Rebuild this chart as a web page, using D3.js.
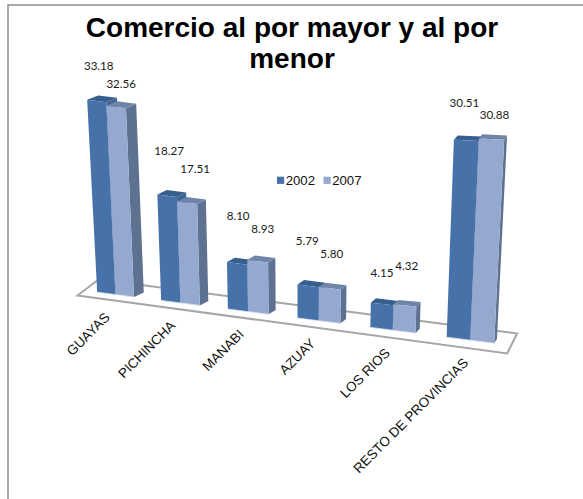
<!DOCTYPE html>
<html><head><meta charset="utf-8">
<script src="https://cdn.jsdelivr.net/npm/d3@7"></script>
<style>html,body{margin:0;background:#fff}svg{display:block}text{font-family:"Liberation Sans",Arial,sans-serif}</style>
</head><body><svg id="c" width="583" height="499"></svg>
<script>
const categories = ["GUAYAS","PICHINCHA","MANABI","AZUAY","LOS RIOS","RESTO DE PROVINCIAS"];
const seriesNames = ["2002","2007"];
const values2002 = [33.18,18.27,8.10,5.79,4.15,30.51];
const values2007 = [32.56,17.51,8.93,5.80,4.32,30.88];
const titleLines = ["Comercio al por mayor y al por","menor"];

const svg = d3.select("#c");
const H = 499;

// perspective helpers built on d3 scales
const perX = d3.scaleLinear().domain([0,1]).range([115.5,179]);
const xAt = X => perX(X/(1-0.021*X));
const floorY = d3.scaleLinear().domain([115.5,470]).range([294.6,340.2]);
const ppu = d3.scaleLinear().domain([0,3,4,4.7,5.3]).range([5.8,5.8,6.0,6.47,6.59]);
const depthRatioBar = d3.scaleLinear().domain([115,500]).range([2.3,0.6]);
const depthRatioFloor = d3.scaleLinear().domain([76,510]).range([1.33,0.5]);
const vp = {x:303,y:4243};
// X: category position (0 = first group's centre), D: depth px, v: value
function P(X,D,v,ratio=depthRatioBar){
  const px0 = xAt(X), py0 = floorY(px0);
  const px = px0 + D*ratio(px0), py = py0 - D;
  const h = v*ppu(X);
  const t = h/(vp.y-py);
  return [px-(vp.x-px)*t, py-(vp.y-py)*t];
}
const halfW = d3.scaleLinear().domain([0,5]).range([0.29,0.30]);
const poly = pts => d3.line()(pts)+"Z";

// outer frame: left and top edges only
const frame = d3.path();
frame.moveTo(8,H); frame.lineTo(8,5); frame.lineTo(583,5);
svg.append("path").attr("d",frame.toString()).attr("fill","none").attr("stroke","#8c8c8c").attr("stroke-width",1.5);

// floor
const fl = [[-0.5,-5],[5.51,-8],[5.51,12],[-0.5,11]].map(([X,D])=>P(X,D,0,depthRatioFloor));
svg.append("path").attr("d",poly(fl)).attr("fill","#fff").attr("stroke","#a6a6a6").attr("stroke-width",2);

const colors = {
 a:{front:"#4672a9",top:"#365f8e",side:"#3f6593"},
 b:{front:"#95a9d0",top:"#6e84a8",side:"#5f7190"}
};
const barDepth = 4.4;
categories.forEach((c,i)=>{
  const hw = halfW(i);
  [[values2002[i],-hw,0,colors.a],[values2007[i],0,hw,colors.b]].forEach(([v,x0,x1,col])=>{
    const g = svg.append("g");
    const a=P(i+x0,0,0),b=P(i+x1,0,0),c1=P(i+x1,0,v),d=P(i+x0,0,v);
    const e=P(i+x1,barDepth,0),f=P(i+x1,barDepth,v),k=P(i+x0,barDepth,v);
    g.append("path").attr("d",poly([b,e,f,c1])).attr("fill",col.side);
    g.append("path").attr("d",poly([d,c1,f,k])).attr("fill",col.top);
    g.append("path").attr("d",poly([a,b,c1,d])).attr("fill",col.front);
    g.append("path").attr("d",d3.line()([a,b])).attr("stroke","#dfe6f2").attr("stroke-width",0.8).attr("fill","none");
  });
});

// data labels: hand-placed in the original, offsets relative to the bar top
const labelShift2002 = [[2,-31],[2,-41],[1,-43],[-1,-41],[0,-27],[-2,-33]];
const labelShift2007 = [[5,-19],[8,-30],[5,-28],[2,-30],[2,-35],[3,-20]];
const lblFmt = d3.format(".2f");
categories.forEach((c,i)=>{
  const hw=halfW(i);
  [[values2002[i],-hw/2,labelShift2002[i]],[values2007[i],hw/2,labelShift2007[i]]].forEach(([v,x,s])=>{
    const [px,py]=P(i+x,0,v);
    svg.append("text").attr("x",px+s[0]).attr("y",py+s[1]).attr("text-anchor","middle")
      .style("font-family","Lato,sans-serif").attr("font-size",11.6).attr("fill","#1a1a1a").text(lblFmt(v));
  });
});

// axis labels
categories.forEach((c,i)=>{
  const [px,py]=P(i,-5.5,0,depthRatioFloor);
  svg.append("text").attr("transform",`translate(${px+2},${py+18}) rotate(-45)`)
    .attr("text-anchor","end").attr("font-size",13.5).attr("fill","#111").text(c);
});

// title
titleLines.forEach((t,i)=>svg.append("text").attr("x",292).attr("y",37+i*31)
  .attr("text-anchor","middle").attr("font-size",28).attr("font-weight","bold").attr("fill","#000").text(t));

// legend
const legend = d3.scalePoint().domain(seriesNames).range([277,323.5]);
seriesNames.forEach((n,i)=>{
  svg.append("rect").attr("x",legend(n)).attr("y",176.7).attr("width",7.2).attr("height",7.2).attr("fill",i?colors.b.front:colors.a.front);
  svg.append("text").attr("x",legend(n)+8.7).attr("y",185).attr("font-size",13.2).attr("fill","#111").text(n);
});
</script></body></html>
